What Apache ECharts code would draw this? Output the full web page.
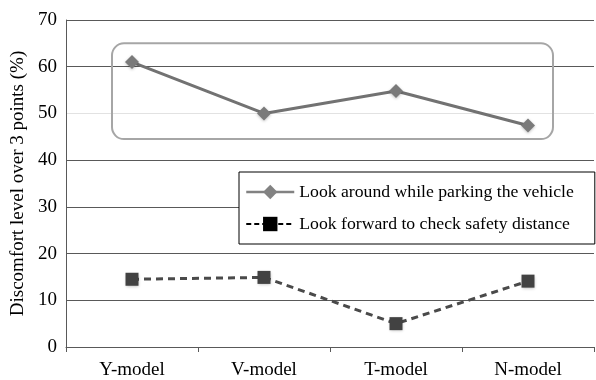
<!DOCTYPE html>
<html>
<head>
<meta charset="utf-8">
<script src="https://cdn.jsdelivr.net/npm/echarts@6/dist/echarts.min.js"></script>
<style>
  html, body { margin: 0; padding: 0; background: #fff; }
  #chart { width: 596px; height: 380px; }
</style>
</head>
<body>
<div id="chart"></div>
<script>
// Discomfort level by vehicle model for two driving tasks
const categories = ['Y-model', 'V-model', 'T-model', 'N-model'];
const lookAround = [61, 50, 54.8, 47.4];
const lookForward = [14.5, 14.9, 5, 14.1];
const seriesNames = ['Look around while parking the vehicle', 'Look forward to check safety distance'];
const yTicks = { min: 0, max: 70, interval: 10 };

const FONT = '"Liberation Serif", "Times New Roman", Times, serif';

const chart = echarts.init(document.getElementById('chart'), null, { renderer: 'canvas' });

chart.setOption({
  animation: false,
  backgroundColor: '#fff',
  grid: { left: 66, right: 2, top: 20, bottom: 33, containLabel: false },
  xAxis: {
    type: 'category',
    data: categories,
    boundaryGap: true,
    axisLine: { show: true, lineStyle: { color: '#595959', width: 1 } },
    axisTick: { show: true, length: 5, alignWithLabel: false, lineStyle: { color: '#595959' } },
    axisLabel: { color: '#000', fontFamily: FONT, fontSize: 19, margin: 14 }
  },
  yAxis: {
    type: 'value',
    min: yTicks.min,
    max: yTicks.max,
    interval: yTicks.interval,
    name: 'Discomfort level over 3 points (%)',
    nameLocation: 'middle',
    nameGap: 32,
    nameRotate: 90,
    nameTextStyle: { color: '#000', fontFamily: FONT, fontSize: 19 },
    axisLine: { show: true, lineStyle: { color: '#595959', width: 1 } },
    axisTick: { show: false },
    axisLabel: { color: '#000', fontFamily: FONT, fontSize: 19, margin: 9 },
    splitLine: {
      show: true,
      lineStyle: {
        color: ['#595959', '#595959', '#595959', '#595959', '#595959', '#e2e2e2', '#595959', '#595959'],
        width: 1
      }
    }
  },
  legend: {
    orient: 'vertical',
    left: 239,
    top: 172,
    padding: [11, 21, 11, 6],
    itemGap: 14,
    itemWidth: 48,
    itemHeight: 18,
    borderColor: '#000',
    borderWidth: 1,
    backgroundColor: '#fff',
    textStyle: { color: '#000', fontFamily: FONT, fontSize: 17.7 },
    data: [
      {
        name: seriesNames[0],
        itemStyle: { color: '#828282', shadowBlur: 0 },
        lineStyle: { color: '#828282', width: 2.5, type: 'solid' }
      },
      {
        name: seriesNames[1],
        itemStyle: { color: '#000', shadowBlur: 0 },
        lineStyle: { color: '#000', width: 2, type: [5, 3] }
      }
    ]
  },
  series: [
    {
      name: seriesNames[0],
      type: 'line',
      data: lookAround,
      symbol: 'diamond',
      symbolSize: 14,
      z: 3,
      lineStyle: { color: '#727272', width: 3 },
      itemStyle: { color: '#7a7a7a', shadowColor: 'rgba(0,0,0,0.25)', shadowBlur: 3, shadowOffsetY: 1 }
    },
    {
      name: seriesNames[1],
      type: 'line',
      data: lookForward,
      symbol: 'rect',
      symbolSize: 13,
      z: 3,
      lineStyle: { color: '#4a4a4a', width: 3, type: [7, 5] },
      itemStyle: { color: '#424242', shadowColor: 'rgba(0,0,0,0.25)', shadowBlur: 3, shadowOffsetY: 1 }
    }
  ]
});

// Rounded highlight frame around the "look around" series, anchored to data positions
const topLeft = chart.convertToPixel({ gridIndex: 0 }, [0, 65]);
const bottomRight = chart.convertToPixel({ gridIndex: 0 }, [3, 44.5]);
const frameLeft = topLeft[0] - 20;
const frameRight = bottomRight[0] + 25;
chart.setOption({
  graphic: [{
    type: 'rect',
    z: 1,
    shape: {
      x: frameLeft,
      y: topLeft[1],
      width: frameRight - frameLeft,
      height: bottomRight[1] - topLeft[1],
      r: 12
    },
    style: { fill: 'none', stroke: '#a6a6a6', lineWidth: 2 }
  }]
});
</script>
</body>
</html>
